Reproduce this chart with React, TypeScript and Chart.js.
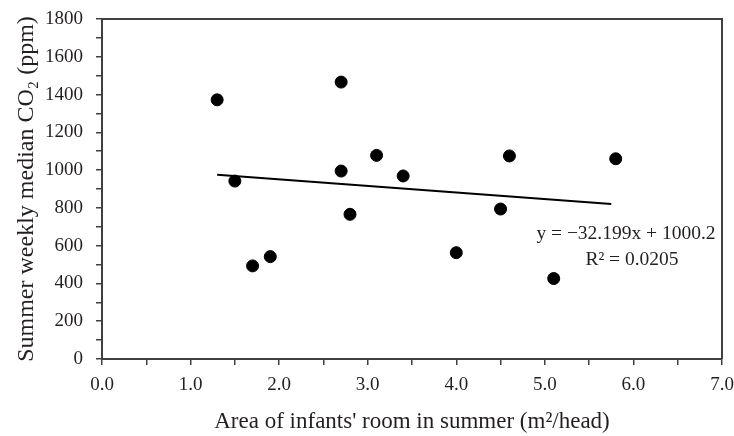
import React, { useEffect, useRef } from "react";
import { Chart, registerables } from "chart.js";

Chart.register(...registerables);

// Data
const areaX: number[] = [1.3, 1.5, 1.7, 1.9, 2.7, 2.7, 2.8, 3.1, 3.4, 4.0, 4.5, 4.6, 5.1, 5.8];
const co2Y: number[] = [1372, 942, 493, 542, 1466, 995, 766, 1078, 969, 563, 794, 1075, 426, 1060];
const trendX: number[] = [1.3, 5.75];
const trendY: number[] = [976, 821];
const equationLines: string[] = ["y = \u221232.199x + 1000.2", "R\u00B2 = 0.0205"];
const xTitle = "Area of infants' room in summer (m\u00B2/head)";
const yTitle = "Summer weekly median CO\u2082 (ppm)";

const FONT = "'Liberation Serif', 'Times New Roman', serif";
const TEXT = "#231f20";
const AXIS = "#404040";

const framePlugin = {
  id: "frame",
  afterDatasetsDraw(chart: any) {
    const { ctx, chartArea } = chart;
    ctx.save();
    ctx.strokeStyle = AXIS;
    ctx.lineWidth = 2;
    ctx.beginPath();
    ctx.moveTo(chartArea.left, chartArea.top);
    ctx.lineTo(chartArea.right, chartArea.top);
    ctx.lineTo(chartArea.right, chartArea.bottom);
    ctx.stroke();
    // equation text
    ctx.fillStyle = TEXT;
    ctx.font = `19.5px ${FONT}`;
    ctx.textAlign = "center";
    ctx.textBaseline = "middle";
    ctx.fillText(equationLines[0], 626, 234);
    ctx.fillText(equationLines[1], 632, 260);
    ctx.restore();
  },
};

export default function App() {
  const ref = useRef<HTMLCanvasElement | null>(null);
  useEffect(() => {
    if (!ref.current) return;
    const chart = new Chart(ref.current, {
      type: "scatter",
      data: {
        datasets: [
          {
            label: "points",
            data: areaX.map((x, i) => ({ x, y: co2Y[i] })),
            backgroundColor: "#000",
            borderColor: "#000",
            pointRadius: 6,
            pointHoverRadius: 6,
            showLine: false,
          },
          {
            label: "trend",
            data: trendX.map((x, i) => ({ x, y: trendY[i] })),
            borderColor: "#000",
            borderWidth: 2,
            pointRadius: 0,
            showLine: true,
          } as any,
        ],
      },
      options: {
        responsive: false,
        animation: false,
        layout: { padding: { left: 0, top: 19, right: 12, bottom: 0 } },
        plugins: { legend: { display: false }, tooltip: { enabled: false } },
        scales: {
          x: {
            type: "linear",
            min: 0,
            max: 7,
            afterFit(scale: any) {
              scale.height = 77;
              scale.paddingLeft = 0;
              scale.paddingRight = 0;
            },
            ticks: {
              stepSize: 0.5,
              autoSkip: false,
              maxRotation: 0,
              padding: 9,
              color: TEXT,
              font: { family: FONT, size: 19 },
              callback: (v: any) => (Math.abs(v % 1) < 1e-9 ? Number(v).toFixed(1) : ""),
            },
            grid: { drawOnChartArea: false, drawTicks: true, tickLength: 6, color: AXIS, lineWidth: 1.5 },
            border: { color: AXIS, width: 2 },
            title: {
              display: true,
              text: xTitle,
              color: TEXT,
              font: { family: FONT, size: 23 },
              padding: { top: 0, bottom: 0 },
            },
          },
          y: {
            type: "linear",
            min: 0,
            max: 1800,
            afterFit(scale: any) {
              scale.width = 102;
              scale.paddingTop = 0;
              scale.paddingBottom = 0;
            },
            ticks: {
              stepSize: 100,
              autoSkip: false,
              padding: 13,
              color: TEXT,
              font: { family: FONT, size: 19 },
              callback: (v: any) => (v % 200 === 0 ? String(v) : ""),
            },
            grid: { drawOnChartArea: false, drawTicks: true, tickLength: 6, color: AXIS, lineWidth: 1.5 },
            border: { color: AXIS, width: 2 },
            title: {
              display: true,
              text: yTitle,
              color: TEXT,
              font: { family: FONT, size: 24 },
              padding: { top: 12, bottom: 0 },
            },
          },
        },
      },
      plugins: [framePlugin],
    });
    return () => chart.destroy();
  }, []);
  return (
    <canvas
      ref={ref}
      width={734}
      height={436}
      style={{ position: "absolute", left: 0, top: 0, display: "block", background: "#fff" }}
    />
  );
}
